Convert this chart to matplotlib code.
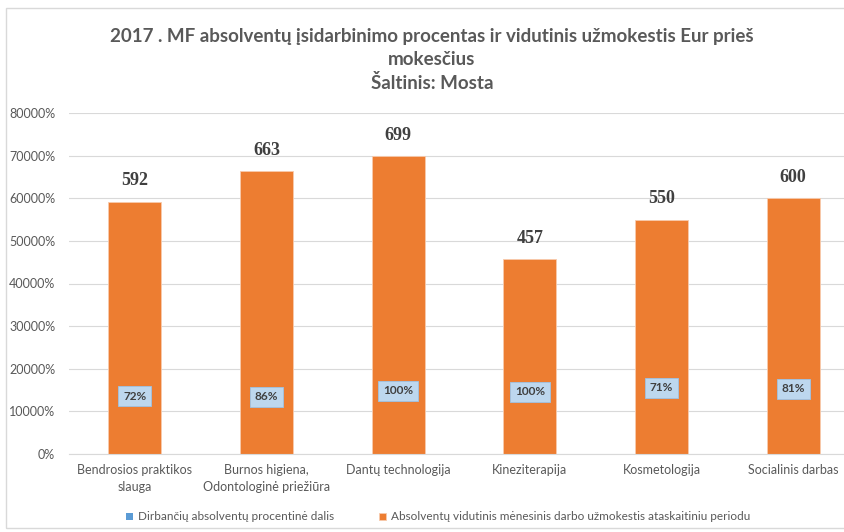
import matplotlib
matplotlib.use("Agg")
import matplotlib.pyplot as plt
from matplotlib.patches import Rectangle
from matplotlib.ticker import FuncFormatter, MultipleLocator

categories = ["Bendrosios praktikos\nslauga", "Burnos higiena,\nOdontologinė priežiūra",
              "Dantų technologija", "Kineziterapija", "Kosmetologija", "Socialinis darbas"]
employed_pct = [72, 86, 100, 100, 71, 81]          # Dirbančių absolventų procentinė dalis (%)
avg_salary = [592, 663, 699, 457, 550, 600]        # Absolventų vidutinis mėnesinis darbo užmokestis
series_names = ["Dirbančių absolventų procentinė dalis",
                "Absolventų vidutinis mėnesinis darbo užmokestis ataskaitiniu periodu"]
title = "2017 . MF absolventų įsidarbinimo procentas ir vidutinis užmokestis Eur prieš\nmokesčius\nŠaltinis: Mosta"

# layout: heights (axis units, 1 = 100%) where the percentage labels sit
pct_label_y = [136, 134, 148, 146, 155, 153]

W, H = 844, 532
fig = plt.figure(figsize=(W / 100, H / 100), dpi=100)
fig.patch.set_facecolor("white")

# chart border
fig.add_artist(Rectangle((6 / W, 4 / H), 1.0, (H - 12) / H, transform=fig.transFigure,
                         fill=False, edgecolor="#D9D9D9", linewidth=1.0))

left, right = 69, 859
bottom, top = 454, 113
ax = fig.add_axes([left / W, (H - bottom) / H, (right - left) / W, (bottom - top) / H])

blue = "#5B9BD5"
orange = "#ED7D31"
grey = "#595959"

x = list(range(len(categories)))
emp_frac = [v / 100 for v in employed_pct]   # 72% -> 0.72
sal_frac = [v for v in avg_salary]           # 592 shown by Excel as 59200%

ax.bar(x, emp_frac, width=0.4, color=blue, label=series_names[0], zorder=3)
ax.bar(x, sal_frac, width=0.4, color=orange, label=series_names[1], zorder=2,
       edgecolor="#F8CBAD", linewidth=0.6)

ax.set_xlim(-0.5, len(categories) - 0.5)
ax.set_ylim(0, 800)
ax.yaxis.set_major_locator(MultipleLocator(100))
ax.yaxis.set_major_formatter(FuncFormatter(lambda v, p: f"{v * 100:.0f}%"))
ax.grid(axis="y", color="#D9D9D9", linewidth=0.8, zorder=0)
ax.set_axisbelow(True)
for s in ["top", "right", "left"]:
    ax.spines[s].set_visible(False)
ax.spines["bottom"].set_color("#D9D9D9")
ax.tick_params(axis="both", length=0, colors=grey, labelsize=9)
ax.tick_params(axis="y", pad=10)
ax.tick_params(axis="x", pad=7)
ax.set_xticks(x)
ax.set_xticklabels(categories, fontsize=9, color=grey, linespacing=1.55)
for lab in ax.get_yticklabels() + ax.get_xticklabels():
    lab.set_family("Lato")

# salary labels
for xi, v in zip(x, avg_salary):
    ax.annotate(f"{v}", (xi, v), xytext=(0, 15), textcoords="offset points",
                ha="center", va="center", fontsize=13, fontweight="bold",
                family="Liberation Serif", color="#404040")

# percentage labels
for xi, v, ly in zip(x, employed_pct, pct_label_y):
    ax.text(xi, ly, f"{v}%", ha="center", va="center", fontsize=8.5, fontweight="bold",
            family="Lato", color="#404040", zorder=5,
            bbox=dict(boxstyle="square,pad=0.4", facecolor="#BDD7EE", edgecolor="#9DC3E6",
                      linewidth=0.6))

fig.text(432 / W, 1 - 60 / H, title, ha="center", va="center", fontsize=13.5,
         fontweight="bold", family="Lato", color=grey, linespacing=1.4)

leg = fig.legend(loc="center", bbox_to_anchor=(438 / W, 1 - 517 / H), ncol=2, frameon=False,
                 handlelength=0.6, handleheight=0.6, columnspacing=3.8,
                 handletextpad=0.4, prop={"family": "Lato", "size": 8.5})
for t in leg.get_texts():
    t.set_color(grey)

fig.savefig("out.png", dpi=100)
